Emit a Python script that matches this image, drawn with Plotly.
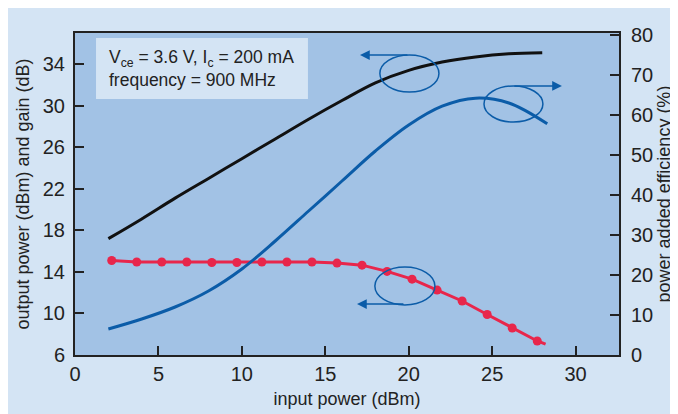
import plotly.graph_objects as go

# ---- data ----
pout_x = [2, 4, 6, 8, 10, 12, 14, 16, 18, 20, 22, 24, 26, 28]
pout_y = [17.2, 19.1, 21.1, 23.0, 24.9, 26.8, 28.7, 30.5, 32.2, 33.4, 34.2, 34.7, 35.0, 35.1]

pae_x = [2, 4, 6, 8, 10, 12, 14, 16, 18, 20, 22, 24, 26, 28.3]
pae_y = [6.5, 9.0, 12.0, 16.0, 21.5, 28.5, 36.0, 43.5, 51.0, 57.5, 62.2, 64.2, 63.0, 57.8]

gain_x = [2.2, 3.7, 5.2, 6.7, 8.2, 9.7, 11.2, 12.7, 14.2, 15.7, 17.2, 18.7,
          20.2, 21.7, 23.2, 24.7, 26.2, 27.7, 28.2]
gain_y = [15.1, 14.95, 14.95, 14.95, 14.9, 14.9, 14.95, 14.95, 14.95, 14.85, 14.65, 14.05,
          13.3, 12.25, 11.2, 9.9, 8.6, 7.35, 7.05]
gain_marker = [9] * 18 + [0]

x_ticks = [0, 5, 10, 15, 20, 25, 30]
y_ticks = [6, 10, 14, 18, 22, 26, 30, 34]
y2_ticks = [0, 10, 20, 30, 40, 50, 60, 70, 80]

FONT = "Liberation Sans, Arial, Helvetica, sans-serif"
BLUE = "#0b5ca8"
RED = "#e8264b"
INK = "#222222"

fig = go.Figure()
fig.add_trace(go.Scatter(x=pout_x, y=pout_y, mode="lines", line=dict(color="#111111", width=3, shape="spline"),
                         showlegend=False, yaxis="y"))
fig.add_trace(go.Scatter(x=pae_x, y=pae_y, mode="lines", line=dict(color=BLUE, width=3, shape="spline"),
                         showlegend=False, yaxis="y2"))
fig.add_trace(go.Scatter(x=gain_x, y=gain_y, mode="lines+markers", line=dict(color=RED, width=3),
                         marker=dict(color=RED, size=gain_marker, line=dict(width=0), opacity=1),
                         showlegend=False, yaxis="y"))

shapes = []
# text box background
shapes.append(dict(type="rect", xref="x", yref="y", x0=1.26, x1=13.96, y0=30.65, y1=36.52,
                   fillcolor="#d4e4f4", line=dict(width=0), layer="below"))
# ellipses
for (x0, x1, y0, y1) in [(18.27, 21.81, 31.32, 34.88), (24.51, 28.04, 28.43, 31.90), (17.97, 21.57, 10.81, 14.47)]:
    shapes.append(dict(type="circle", xref="x", yref="y", x0=x0, x1=x1, y0=y0, y1=y1,
                       line=dict(color=BLUE, width=1.5)))

annotations = [
    dict(x=1.92, y=33.55, xref="x", yref="y", xanchor="left", yanchor="middle", align="left",
         text="V<sub>ce</sub> = 3.6 V, I<sub>c</sub> = 200 mA<br>frequency = 900 MHz",
         showarrow=False, font=dict(family=FONT, size=17.5, color=INK)),
]
for (hx, hy, tx, ty) in [(17.08, 34.88, 20.01, 34.88), (29.18, 31.90, 26.24, 31.90), (16.90, 10.91, 19.77, 10.91)]:
    annotations.append(dict(x=hx, y=hy, ax=tx, ay=ty, xref="x", yref="y", axref="x", ayref="y",
                            text="", showarrow=True, arrowhead=2, arrowsize=1.3, arrowwidth=1.5,
                            arrowcolor=BLUE))

fig.update_layout(
    width=678, height=414,
    margin=dict(l=67, r=67, t=25, b=67, autoexpand=False),
    paper_bgcolor="#d4e4f4",
    plot_bgcolor="#a2c2e5",
    font=dict(family=FONT, color=INK),
    shapes=shapes,
    annotations=annotations,
    xaxis=dict(range=[0, 32.6], tickvals=x_ticks, ticks="inside", ticklen=9, tickwidth=1.5, tickcolor=INK,
               showline=True, linecolor=INK, linewidth=2, mirror=True, showgrid=False, zeroline=False,
               automargin=False,
               tickfont=dict(size=20, family=FONT, color=INK), ticklabelstandoff=0,
               title=dict(text="input power (dBm)", font=dict(size=18, family=FONT, color=INK), standoff=8)),
    yaxis=dict(range=[6, 37.0], tickvals=y_ticks, ticks="inside", ticklen=9, tickwidth=1.5, tickcolor=INK,
               showline=True, linecolor=INK, linewidth=2, mirror=True, showgrid=False, zeroline=False,
               automargin=False, ticklabelstandoff=4,
               tickfont=dict(size=20, family=FONT, color=INK),
               title=dict(text="output power (dBm) and gain (dB)", font=dict(size=18, family=FONT, color=INK),
                          standoff=8)),
    yaxis2=dict(range=[0, 80.5], tickvals=y2_ticks, overlaying="y", side="right", ticks="inside", ticklen=9,
                tickwidth=1.5, tickcolor=INK, showline=True, linecolor=INK, linewidth=2, showgrid=False,
                zeroline=False, automargin=False,
                tickfont=dict(size=20, family=FONT, color=INK), ticklabelstandoff=6,
                title=dict(text="power added efficiency (%)", font=dict(size=18, family=FONT, color=INK),
                           standoff=5)),
)

fig.write_html("out.html")
